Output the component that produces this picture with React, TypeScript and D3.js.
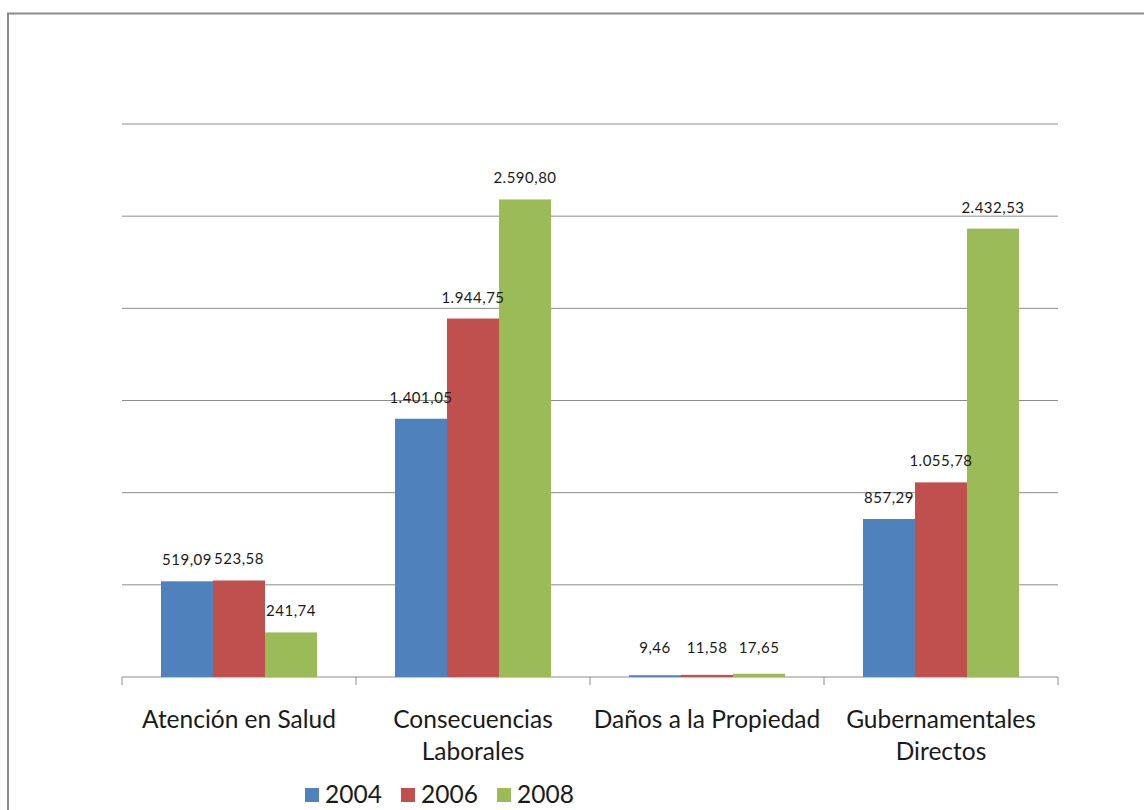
import React from "react";
import * as d3 from "d3";

const categories = ["Atención en Salud", "Consecuencias\nLaborales", "Daños a la Propiedad", "Gubernamentales\nDirectos"];
const seriesNames = ["2004", "2006", "2008"];
const values2004 = [519.09, 1401.05, 9.46, 857.29];
const values2006 = [523.58, 1944.75, 11.58, 1055.78];
const values2008 = [241.74, 2590.8, 17.65, 2432.53];
const yTicks = [0, 500, 1000, 1500, 2000, 2500, 3000];
const colors = ["#4F81BD", "#C0504D", "#9BBB59"];

const W = 1144;
const H = 810;
const plot = { left: 122, right: 1058, top: 124, bottom: 677 };

const locale = d3.formatLocale({ decimal: ",", thousands: ".", grouping: [3], currency: ["", ""] });
const fmt = locale.format(",.2f");

export default function App() {
  const series = [values2004, values2006, values2008];
  const x = d3.scaleBand<string>().domain(categories).range([plot.left, plot.right]).paddingInner(0).paddingOuter(0);
  const xInner = d3
    .scaleBand<string>()
    .domain(seriesNames)
    .range([0, x.bandwidth()])
    .paddingInner(0)
    .paddingOuter(0.75);
  const y = d3.scaleLinear().domain([0, 3000]).range([plot.bottom, plot.top]);
  const font = "Lato, 'Open Sans', sans-serif";

  const boundaries = [...categories.map((c) => x(c) as number), plot.right];

  return (
    <svg width={W} height={H} style={{ position: "absolute", left: 0, top: 0, background: "#fff" }}>
      <rect x={8} y={13.5} width={W + 20} height={H + 20} fill="#fff" stroke="#8a8a8a" strokeWidth={2} />
      {yTicks.map((t) => (
        <line key={t} x1={plot.left} x2={plot.right} y1={y(t)} y2={y(t)} stroke="#8c8c8c" strokeWidth={1} />
      ))}
      {boundaries.map((b, i) => (
        <line key={i} x1={b} x2={b} y1={plot.bottom} y2={plot.bottom + 8} stroke="#8c8c8c" strokeWidth={1} />
      ))}
      {categories.map((c, ci) =>
        seriesNames.map((s, si) => {
          const v = series[si][ci];
          const bx = (x(c) as number) + (xInner(s) as number);
          return (
            <rect key={c + s} x={bx} y={y(v)} width={xInner.bandwidth()} height={plot.bottom - y(v)} fill={colors[si]} />
          );
        })
      )}
      {categories.map((c, ci) =>
        seriesNames.map((s, si) => {
          const v = series[si][ci];
          const bx = (x(c) as number) + (xInner(s) as number) + xInner.bandwidth() / 2;
          return (
            <text
              key={"l" + c + s}
              x={bx}
              y={Math.min(y(v), plot.bottom - 8) - 16}
              textAnchor="middle"
              fontFamily={font}
              fontSize={15}
              letterSpacing={0.5}
              fill="#1a1a1a"
            >
              {fmt(v)}
            </text>
          );
        })
      )}
      {categories.map((c) => {
        const lines = c.split("\n");
        const cx = (x(c) as number) + x.bandwidth() / 2;
        return (
          <text key={"c" + c} x={cx} y={728} textAnchor="middle" fontFamily={font} fontSize={24.5} fill="#1a1a1a">
            {lines.map((ln, i) => (
              <tspan key={i} x={cx} dy={i === 0 ? 0 : 32}>
                {ln}
              </tspan>
            ))}
          </text>
        );
      })}
      {seriesNames.map((s, i) => (
        <g key={"lg" + s} transform={`translate(${305 + i * 96},0)`}>
          <rect x={0} y={788} width={14} height={14} fill={colors[i]} />
          <text x={20} y={803} fontFamily={font} fontSize={24.5} fill="#1a1a1a">
            {s}
          </text>
        </g>
      ))}
    </svg>
  );
}
